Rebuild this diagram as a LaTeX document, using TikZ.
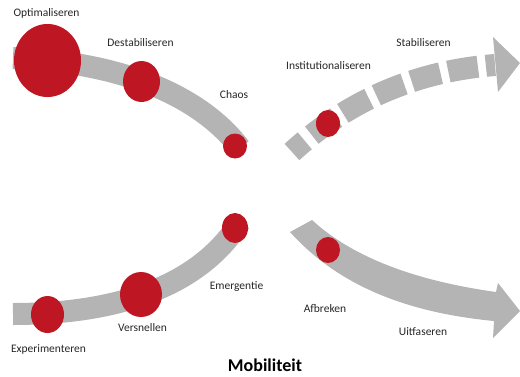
\documentclass[tikz,border=0pt]{standalone}
\usepackage{fontspec}
\setmainfont{Carlito}
\usetikzlibrary{shapes.geometric}
\definecolor{bandgray}{RGB}{180,180,180}
\definecolor{dotred}{RGB}{190,22,34}
\begin{document}
\begin{tikzpicture}[x=1pt,y=-1pt,
  band/.style={bandgray,line width=22pt},
  dot/.style={ellipse,fill=dotred,inner sep=0pt},
  lbl/.style={font=\fontsize{11.5}{13}\selectfont,text=black!85}]
\useasboundingbox (0,0) rectangle (520,376);
% bands
\coordinate (a0) at (13,58);
\coordinate (a1) at (240,148);
\draw[band] (a0) .. controls (120,62) and (200,95) .. (a1);
\coordinate (b0) at (13,314);
\coordinate (b1) at (240,222);
\draw[band] (b0) .. controls (120,314) and (200,285) .. (b1);
\coordinate (c0) at (292,152);
\coordinate (c1) at (495,65);
\draw[band,dash pattern=on 17pt off 9pt on 30pt off 8pt on 30pt off 8pt on 30pt off 8pt on 30pt off 8pt on 30pt off 8pt on 40pt]
  (c0) .. controls (340,108) and (405,72) .. (c1);
\fill[bandgray] (493,37) -- (520,63) -- (498,92) -- cycle;
\coordinate (d0) at (312,220);
\coordinate (d1) at (290,232);
\fill[bandgray] (d0) .. controls (350,255) and (410,280) .. (496,292) -- (498,283) -- (520,311)
  -- (493,338) -- (494,321) .. controls (400,312) and (335,282) .. (d1) -- cycle;
% dots
\node[dot,minimum width=67pt,minimum height=73pt] (opt) at (47.5,60.5) {};
\node[dot,minimum width=37pt,minimum height=41pt] (destab) at (141.5,81.5) {};
\node[dot,minimum width=24pt,minimum height=25pt] (chaos) at (235,146) {};
\node[dot,minimum width=24pt,minimum height=27pt] (instit) at (328,123.5) {};
\node[dot,minimum width=24pt,minimum height=26pt] (afbr) at (328,250) {};
\node[dot,minimum width=26pt,minimum height=30pt] (emerg) at (235,228) {};
\node[dot,minimum width=42pt,minimum height=45pt] (versn) at (141,294.5) {};
\node[dot,minimum width=33pt,minimum height=37pt] (exper) at (47.5,314.5) {};
% labels
\node[lbl] (l-opt) at (46.5,13) {Optimaliseren};
\node[lbl] (l-destab) at (140.5,42.5) {Destabiliseren};
\node[lbl] (l-chaos) at (234,95) {Chaos};
\node[lbl] (l-instit) at (328.5,66) {Institutionaliseren};
\node[lbl] (l-stab) at (423.5,43) {Stabiliseren};
\node[lbl] (l-exper) at (48.5,349) {Experimenteren};
\node[lbl] (l-versn) at (142.5,328) {Versnellen};
\node[lbl] (l-emerg) at (236.5,287) {Emergentie};
\node[lbl] (l-afbr) at (325,308) {Afbreken};
\node[lbl] (l-uitf) at (423,332) {Uitfaseren};
\node[font=\bfseries\fontsize{18}{20}\selectfont] (mob) at (265,365) {Mobiliteit};
\end{tikzpicture}
\end{document}
